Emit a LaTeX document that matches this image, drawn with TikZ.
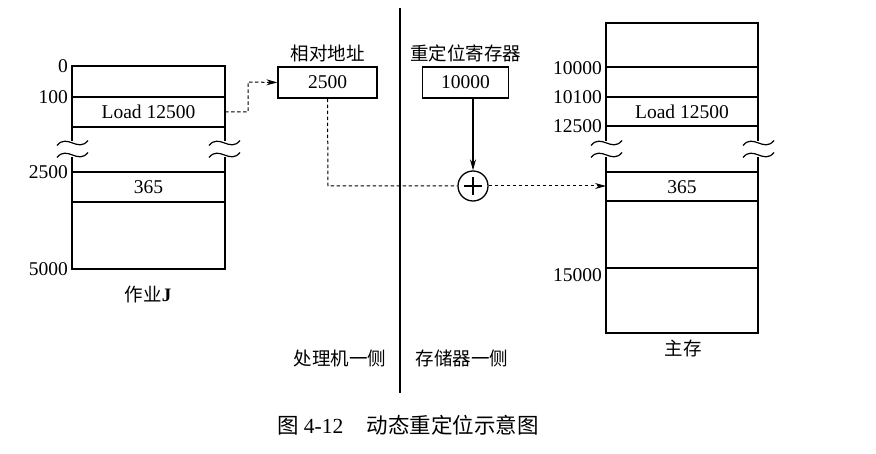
\documentclass[tikz,border=0pt]{standalone}
\usepackage{fontspec}
\setmainfont{Liberation Serif}
\newfontfamily\cjk{Noto Sans CJK SC}
\usetikzlibrary{arrows.meta,calc}
\begin{document}
\begin{tikzpicture}[x=1pt,y=-1pt,
  solidln/.style={line width=1.3pt},
  dashln/.style={line width=1pt,dash pattern=on 3.5pt off 2.5pt},
  tip/.style={-{Stealth[length=11pt,width=6pt]}},
  lat/.style={font=\fontsize{19.5}{21}\selectfont,inner sep=0pt},
  zh/.style={font=\cjk\fontsize{18.5}{20}\selectfont,inner sep=0pt},
  regbox/.style={draw,line width=1.3pt,minimum width=99pt,minimum height=31pt,inner sep=0pt,font=\fontsize{19.5}{21}\selectfont},
  addc/.style={draw,circle,line width=1.3pt,minimum size=30pt,inner sep=0pt}]
\useasboundingbox (0,0) rectangle (876,454);
\newcommand{\wavy}[2]{\draw[line width=1.2pt] (#1,#2+2.5) .. controls (#1+10,#2-10) and (#1+21,#2+10) .. (#1+31,#2-2.5);}
% ---- job J ----
\draw[solidln] (72,141) -- (72,66) -- (225,66) -- (225,141);
\draw[solidln] (72,157) -- (72,269) -- (225,269) -- (225,157);
\foreach \yy in {97,127,172,202} \draw[solidln] (72,\yy) -- (225,\yy);
\wavy{57}{143}\wavy{57}{155}
\wavy{209}{143}\wavy{209}{155}
\node[lat,anchor=east] (j0) at (68,66) {0};
\node[lat,anchor=east] (j100) at (68,97) {100};
\node[lat,anchor=east] (j2500) at (68,172) {2500};
\node[lat,anchor=east] (j5000) at (68,269) {5000};
\node[lat] (jload) at (148.5,112) {Load 12500};
\node[lat] (j365) at (148.5,187) {365};
\node[zh] (jname) at (148,294) {作业\fontsize{19}{21}\selectfont\rmfamily\bfseries J};
\coordinate (jout) at (225,112);
% ---- registers ----
\node[regbox] (rel) at (327.5,82.5) {2500};
\node[regbox,minimum width=86pt] (reloc) at (465.5,82.5) {10000};
\node[zh] (rellab) at (327.5,53) {相对地址};
\node[zh] (reloclab) at (465.5,53) {重定位寄存器};
\node[addc] (add) at (473,186) {};
\draw[line width=1.1pt] ($(add.center)+(-9,0)$) -- ($(add.center)+(9,0)$);
\draw[line width=1.1pt] ($(add.center)+(0,-9)$) -- ($(add.center)+(0,9)$);
% ---- divider ----
\coordinate (divt) at (400,8);
\coordinate (divb) at (400,393);
\draw[line width=1.2pt] (divt) -- (divb);
\node[zh] (proc) at (340,358) {处理机一侧};
\node[zh] (stor) at (462,358) {存储器一侧};
% ---- main memory ----
\draw[solidln] (606,141) -- (606,23) -- (758,23) -- (758,141);
\draw[solidln] (606,157) -- (606,333) -- (758,333) -- (758,157);
\foreach \yy in {67,97,126,172,201,268} \draw[solidln] (606,\yy) -- (758,\yy);
\wavy{591}{143}\wavy{591}{155}
\wavy{743}{143}\wavy{743}{155}
\node[lat,anchor=east] (m10000) at (602,68) {10000};
\node[lat,anchor=east] (m10100) at (602,97) {10100};
\node[lat,anchor=east] (m12500) at (602,126) {12500};
\node[lat,anchor=east] (m15000) at (602,275) {15000};
\node[lat] (mload) at (682,112) {Load 12500};
\node[lat] (m365) at (682,187) {365};
\node[zh] (mname) at (683,348) {主存};
\coordinate (min) at (606,186);
% ---- caption ----
\node[font=\fontsize{21.5}{23}\selectfont,inner sep=0pt] (cap) at (408,425) {{\cjk 图} 4-12\hspace{1.1em}{\cjk 动态重定位示意图}};
% ---- connectors ----
\draw[dashln,tip] (jout) -- (248,112) -- (248,82) -- (rel.west);
\draw[dashln] (rel.south) -- (328,186) -- (add.west);
\draw[line width=1.1pt,tip] (reloc.south -| add.center) -- (add.north);
\draw[dashln,tip] (add.east) -- (min);
\end{tikzpicture}
\end{document}
